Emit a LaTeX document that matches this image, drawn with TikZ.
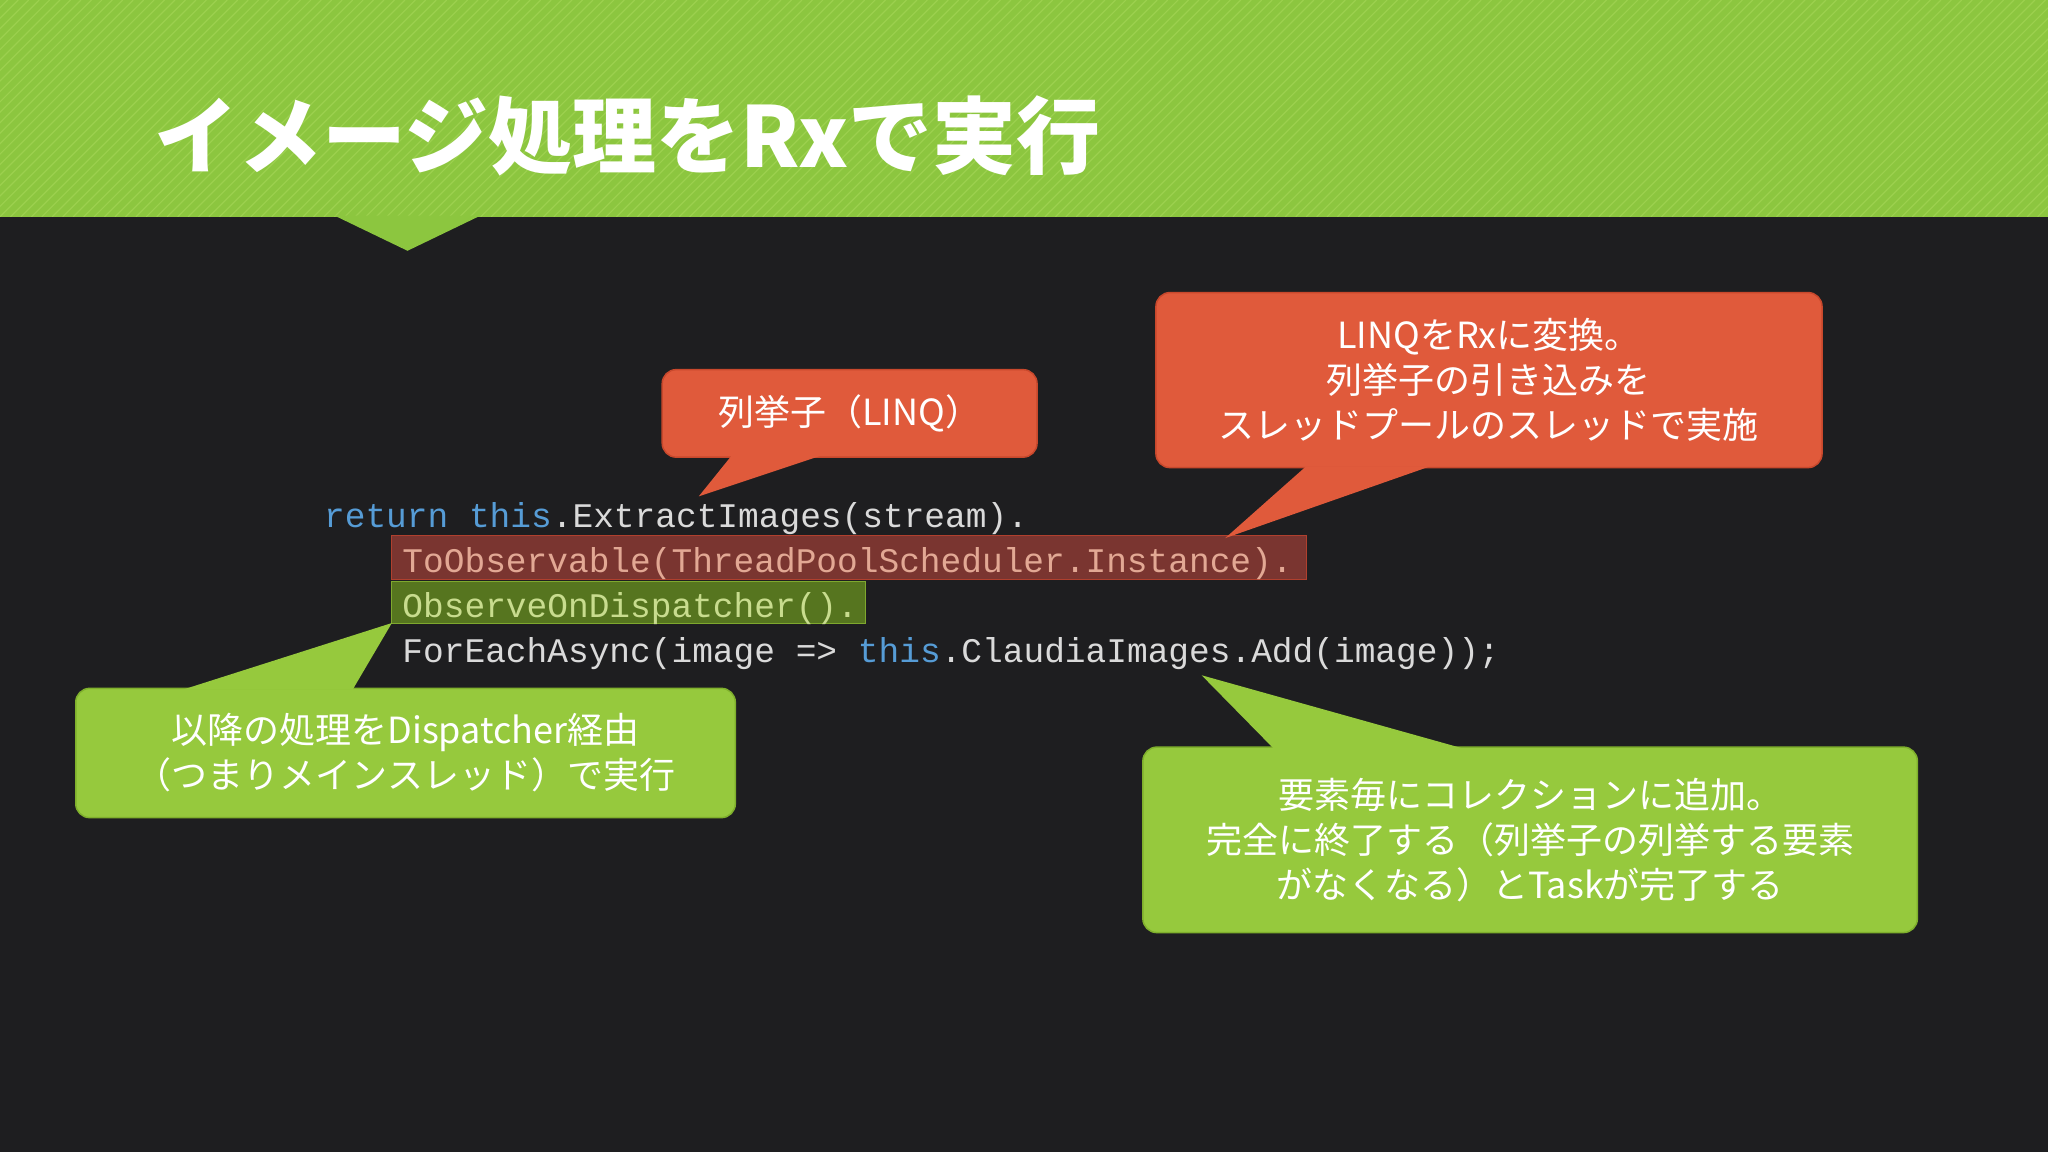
\documentclass[tikz,border=0pt]{standalone}
\usepackage{fontspec}
\setmainfont{Noto Sans CJK JP}
\newfontfamily\jp{Noto Sans CJK JP}
\newfontfamily\codefont{Liberation Mono}
\definecolor{bg}{HTML}{1E1E20}
\definecolor{hdr}{HTML}{8CC63F}
\definecolor{hdrs}{HTML}{9CD04E}
\definecolor{cred}{HTML}{E05A3B}
\definecolor{credb}{HTML}{C8482C}
\definecolor{cgreen}{HTML}{96C93D}
\definecolor{cgreenb}{HTML}{7FB02C}
\definecolor{codetxt}{HTML}{DADADA}
\definecolor{kw}{HTML}{569CD6}
\definecolor{hlred}{HTML}{7A3530}
\definecolor{hlredb}{HTML}{B0402E}
\definecolor{hlgreen}{HTML}{56751F}
\definecolor{hlgreenb}{HTML}{7FA82E}
\definecolor{rtxt}{HTML}{E2A894}
\definecolor{gtxt}{HTML}{C8DC8E}
\tikzset{
 callred/.style={fill=cred,draw=credb,line width=1.5pt,rounded corners=14pt,text=white,font=\jp\fontsize{36}{45}\selectfont,align=center,inner sep=0pt},
 callgreen/.style={fill=cgreen,draw=cgreenb,line width=1.5pt,rounded corners=14pt,text=white,font=\jp\fontsize{36}{45}\selectfont,align=center,inner sep=0pt},
 codeline/.style={anchor=base west,inner sep=0pt,text=codetxt,font=\codefont\fontsize{34.5}{40}\selectfont},
}
\begin{document}
\begin{tikzpicture}[x=1.30612pt,y=-1.30612pt]
\useasboundingbox (0,0) rectangle (1568,882);
\fill[bg] (0,0) rectangle (1568,882);
% header
\begin{scope}
\clip (0,0) rectangle (1568,166);
\fill[hdr] (0,0) rectangle (1568,166);
\foreach \i in {-200,-192,...,1568}{
  \draw[hdrs,line width=1.2pt] (\i,166) -- (\i+166,0);
}
\end{scope}
\fill[hdr] (256,165) -- (312,192) -- (368,165) -- cycle;
\node[anchor=base west,inner sep=0pt,text=white,font=\jp\bfseries\fontsize{84}{92}\selectfont] (title) at (118,128) {イメージ処理をRxで実行};
% code highlights
\fill[hlred,draw=hlredb,line width=1pt] (300,410) rectangle (1000,444);
\fill[hlgreen,draw=hlgreenb,line width=1pt] (300,445) rectangle (663,477);
\node[codeline] (l1) at (248,404) {\textcolor{kw}{return this}.ExtractImages(stream).};
\node[codeline,text=rtxt] (l2) at (308,438) {ToObservable(ThreadPoolScheduler.Instance).};
\node[codeline,text=gtxt] (l3) at (308,473) {ObserveOnDispatcher().};
\node[codeline] (l4) at (308,507) {ForEachAsync(image => \textcolor{kw}{this}.ClaudiaImages.Add(image));};
% callouts
\node[callred,minimum width=287*1.30612pt,minimum height=67*1.30612pt] (c1) at (650.5,316.5) {列挙子（LINQ）};
\coordinate (t1) at (535,380);
\fill[cred] (560,349) -- (t1) -- (628,349) -- cycle;
\node[callred,minimum width=510*1.30612pt,minimum height=134*1.30612pt] (c2) at (1140,291) {LINQをRxに変換。\\列挙子の引き込みを\\スレッドプールのスレッドで実施};
\coordinate (t2) at (938,412);
\fill[cred] (1000,357) -- (t2) -- (1095,357) -- cycle;
\node[callgreen,minimum width=505*1.30612pt,minimum height=99*1.30612pt] (c3) at (310.5,576.5) {以降の処理をDispatcher経由\\（つまりメインスレッド）で実行};
\coordinate (t3) at (300,477);
\fill[cgreen] (140,528) -- (t3) -- (270,528) -- cycle;
\node[callgreen,minimum width=593*1.30612pt,minimum height=142*1.30612pt] (c4) at (1171.5,643) {要素毎にコレクションに追加。\\完全に終了する（列挙子の列挙する要素\\がなくなる）とTaskが完了する};
\coordinate (t4) at (920,517);
\fill[cgreen] (975,573) -- (t4) -- (1120,573) -- cycle;
\end{tikzpicture}
\end{document}
